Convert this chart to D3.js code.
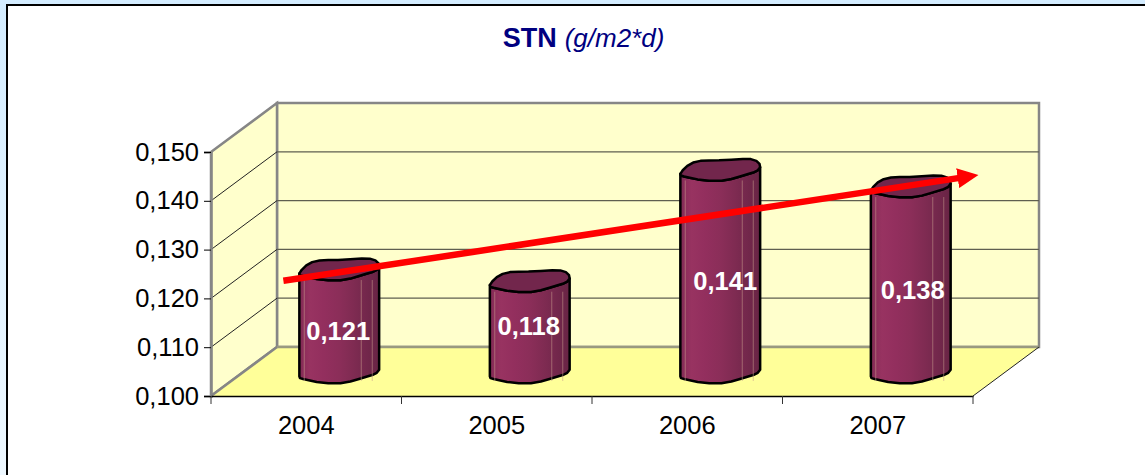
<!DOCTYPE html>
<html>
<head>
<meta charset="utf-8">
<script src="https://cdn.jsdelivr.net/npm/d3@7"></script>
<style>
    html, body { margin: 0; padding: 0; background: #fff; }
    svg { display: block; }
    text { font-family: "Liberation Sans", Arial, sans-serif; }
</style>
</head>
<body>
<div id="wrapper"></div>
<script>
const years = ["2004", "2005", "2006", "2007"];
const barLabels = ["0,121", "0,118", "0,141", "0,138"];
// bar heights
const barValues = [0.121, 0.1186, 0.1414, 0.138];
const yTicks = [0.10, 0.11, 0.12, 0.13, 0.14, 0.15];
const yTickLabels = ["0,100", "0,110", "0,120", "0,130", "0,140", "0,150"];
// trend arrow, x in category positions, y in axis units
const trendPositions = [-0.12, 3.43];
const trendValues = [0.1236, 0.1447];

const dimension = {
    width: 1145,
    height: 475,
    plot: { left: 211, right: 973, top: 152, bottom: 396 },
    depth: { x: 66, y: -49 }
};

const svg = d3.select("#wrapper").append("svg")
    .attr("width", dimension.width)
    .attr("height", dimension.height);

const defs = svg.append("defs");

const pageGradient = defs.append("linearGradient")
    .attr("id", "page")
    .attr("x1", 0).attr("x2", 0).attr("y1", 0).attr("y2", 1);
pageGradient.append("stop").attr("offset", "0%").attr("stop-color", "#d3ecff");
pageGradient.append("stop").attr("offset", "100%").attr("stop-color", "#eef8ff");

const barGradient = defs.append("linearGradient")
    .attr("id", "barFill");
[[0, "#7e2a53"], [0.06, "#8d2e5b"], [0.14, "#983361"], [0.3, "#932f5e"], [0.5, "#8b2e59"],
 [0.68, "#7f2b52"], [0.85, "#72274b"], [1, "#682444"]].forEach(s => {
    barGradient.append("stop").attr("offset", s[0]).attr("stop-color", s[1]);
});

defs.append("marker")
    .attr("id", "arrowHead")
    .attr("markerUnits", "userSpaceOnUse")
    .attr("markerWidth", 22).attr("markerHeight", 20)
    .attr("refX", 2).attr("refY", 10)
    .attr("orient", "auto")
    .append("path")
    .attr("d", "M0,0 L21,10 L0,20 Z")
    .attr("fill", "#ff0000");

// background and frame
svg.append("rect")
    .attr("width", dimension.width).attr("height", dimension.height)
    .attr("fill", "url(#page)");
svg.append("rect")
    .attr("x", 7).attr("y", 5)
    .attr("width", dimension.width + 20).attr("height", dimension.height + 20)
    .attr("fill", "#fff")
    .attr("stroke", "#000")
    .attr("stroke-width", 2);

const title = svg.append("text")
    .attr("x", 583.5).attr("y", 47)
    .attr("text-anchor", "middle")
    .attr("fill", "#000080");
title.append("tspan").attr("font-weight", "bold").attr("font-size", 27).text("STN");
title.append("tspan").attr("font-style", "italic").attr("font-size", 26).attr("dx", 8).text("(g/m2*d)");

const xScale = d3.scaleBand()
    .domain(years)
    .range([dimension.plot.left, dimension.plot.right]);

const yScale = d3.scaleLinear()
    .domain([0.10, 0.15])
    .range([dimension.plot.bottom, dimension.plot.top]);

const dx = dimension.depth.x, dy = dimension.depth.y;
const L = dimension.plot.left, R = dimension.plot.right;
const T = dimension.plot.top, B = dimension.plot.bottom;

const poly = pts => "M" + pts.map(p => p.join(",")).join("L") + "Z";

// walls
const walls = svg.append("g");
walls.append("path")
    .attr("d", poly([[L + dx, T + dy], [R + dx, T + dy], [R + dx, B + dy], [L + dx, B + dy]]))
    .attr("fill", "#ffffcc")
    .attr("stroke", "#868686").attr("stroke-width", 2.5);
walls.append("path")
    .attr("d", poly([[L, T], [L + dx, T + dy], [L + dx, B + dy], [L, B]]))
    .attr("fill", "#ffffcc")
    .attr("stroke", "#868686").attr("stroke-width", 2.5);
walls.append("path")
    .attr("d", poly([[L, B], [L + dx, B + dy], [R + dx, B + dy], [R, B]]))
    .attr("fill", "#ffff99");

// gridlines
const grid = yTicks.filter(d => d > 0.10 && d < 0.15);
walls.selectAll("line.back").data(grid)
    .join("line").attr("class", "back")
    .attr("x1", L + dx).attr("x2", R + dx)
    .attr("y1", d => yScale(d) + dy).attr("y2", d => yScale(d) + dy)
    .attr("stroke", "#5f5f50").attr("stroke-width", 1.2);
walls.selectAll("line.side").data(grid)
    .join("line").attr("class", "side")
    .attr("x1", L).attr("x2", L + dx)
    .attr("y1", d => yScale(d)).attr("y2", d => yScale(d) + dy)
    .attr("stroke", "#222").attr("stroke-width", 1);

// wall edges drawn over the floor
walls.append("line")
    .attr("x1", L).attr("y1", B).attr("x2", L + dx).attr("y2", B + dy)
    .attr("stroke", "#868686").attr("stroke-width", 2.5);
walls.append("line")
    .attr("x1", L + dx).attr("y1", B + dy).attr("x2", R + dx).attr("y2", B + dy)
    .attr("stroke", "#999980").attr("stroke-width", 2.5);
walls.append("line")
    .attr("x1", R).attr("y1", B).attr("x2", R + dx).attr("y2", B + dy)
    .attr("stroke", "#222").attr("stroke-width", 1);

// axes
const yAxis = d3.axisLeft(yScale)
    .tickValues(yTicks)
    .tickFormat((d, i) => yTickLabels[i])
    .tickSizeOuter(0)
    .tickSize(7)
    .tickPadding(5);
const yAxisGroup = svg.append("g")
    .attr("transform", `translate(${L},0)`)
    .call(yAxis);
yAxisGroup.select(".domain").attr("stroke", "#868686").attr("stroke-width", 2.5);

const xAxis = d3.axisBottom(xScale).tickSize(0).tickPadding(20);
const xAxisGroup = svg.append("g")
    .attr("transform", `translate(0,${B})`)
    .call(xAxis);
xAxisGroup.select(".domain").attr("stroke", "#000").attr("stroke-width", 1.5);
xAxisGroup.selectAll(".sep")
    .data(d3.range(years.length + 1))
    .join("line").attr("class", "sep")
    .attr("x1", i => L + i * xScale.step())
    .attr("x2", i => L + i * xScale.step())
    .attr("y1", 0).attr("y2", 8)
    .attr("stroke", "#333");
svg.selectAll("g.tick text")
    .attr("font-size", 25.5)
    .attr("font-family", '"Liberation Sans", Arial, sans-serif')
    .attr("fill", "#000");

// cylinders, standing half way into the floor depth.
// the ring is a squared-off ellipse with a slight ripple, like the low-poly original
const rx = 37.5, ry = 10.5, skew = 11;
const squared = v => Math.sign(v) * Math.pow(Math.abs(v), 0.85);
const ringAngles = d3.range(0, 24).map(k => k * Math.PI / 12);
const ringPoint = (t, cx, cy) => {
    const c = squared(Math.cos(t)), s = squared(Math.sin(t));
    return [cx + rx * c + skew * s, cy - ry * s + 1.1 * Math.sin(4 * t + 0.8)];
};
const rightIndex = d3.greatestIndex(ringAngles, t => ringPoint(t, 0, 0)[0]);
const leftIndex = d3.leastIndex(ringAngles, t => ringPoint(t, 0, 0)[0]);
// lower half of the ring, walking from the right side round to the left side
const frontAngles = d3.range(0, ((rightIndex - leftIndex) + 24) % 24 + 1)
    .map(k => ringAngles[(rightIndex - k + 24) % 24]);

// label placement in the reference does not follow the bar centre exactly
const labelShiftX = [-1, -1, 5, 2];
const labelShiftY = [0, -10, 0, 1];

const bars = svg.append("g").selectAll("g")
    .data(years)
    .join("g");

bars.each(function (year, i) {
    const cx = xScale(year) + xScale.bandwidth() / 2 + dx / 2;
    const base = B + dy / 2 + 0.5;
    const top = yScale(barValues[i]) + dy / 2;
    const g = d3.select(this);

    const bottomArc = frontAngles.map(t => ringPoint(t, cx, base));
    const topArc = frontAngles.map(t => ringPoint(t, cx, top)).reverse();

    g.append("path")
        .attr("d", poly(bottomArc.concat(topArc)))
        .attr("fill", "url(#barFill)")
        .attr("stroke", "#000")
        .attr("stroke-width", 2.5)
        .attr("stroke-linejoin", "round");

    // faint highlights on the cylinder body
    [-35, 22, 33].forEach(off => {
        g.append("line")
            .attr("x1", cx + off).attr("x2", cx + off)
            .attr("y1", top + 11).attr("y2", base + 9)
            .attr("stroke", "#c79a8a")
            .attr("stroke-opacity", 0.55)
            .attr("stroke-width", 1);
    });

    g.append("path")
        .attr("d", poly(ringAngles.map(t => ringPoint(t, cx, top))))
        .attr("fill", "#72264c")
        .attr("stroke", "#000")
        .attr("stroke-width", 2.5)
        .attr("stroke-linejoin", "round");

    g.append("text")
        .attr("x", cx + labelShiftX[i])
        .attr("y", (top + base) / 2 + 8 + labelShiftY[i])
        .attr("dy", 11)
        .attr("text-anchor", "middle")
        .attr("font-weight", "bold")
        .attr("font-size", 25.5)
        .attr("fill", "#fff")
        .text(barLabels[i]);
});

// trend arrow
const trendX = d3.scaleLinear()
    .domain([0, years.length - 1])
    .range([xScale(years[0]) + xScale.bandwidth() / 2, xScale(years[years.length - 1]) + xScale.bandwidth() / 2]);

svg.append("path")
    .datum(trendPositions.map((p, i) => [p, trendValues[i]]))
    .attr("d", d3.line().x(d => trendX(d[0])).y(d => yScale(d[1])))
    .attr("fill", "none")
    .attr("stroke", "#ff0000")
    .attr("stroke-width", 6.5)
    .attr("marker-end", "url(#arrowHead)");
</script>
</body>
</html>
